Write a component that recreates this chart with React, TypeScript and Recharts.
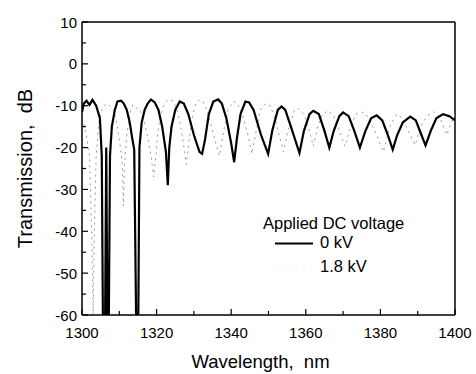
import React from 'react';
import { LineChart, Line, XAxis, YAxis, ReferenceLine, Legend, Label } from 'recharts';

// 0 kV trace (solid)
const wavelength0 = [
  1300, 1300.5, 1301.2, 1302, 1302.8, 1303.8, 1304.8, 1305.3, 1305.6, 1306.2, 1306.5, 1306.8, 1307.2, 1307.5,
  1308, 1308.8, 1309.5, 1310.5, 1311.2, 1312, 1312.8, 1313.5, 1314, 1314.5, 1315.1, 1315.4, 1316, 1316.8,
  1317.6, 1318.5, 1319.5, 1320.5, 1321.5, 1322.5, 1323, 1323.4, 1324, 1325, 1326.2, 1327.3, 1328.5, 1330,
  1331.5, 1332.2, 1333, 1334, 1335.2, 1336.5, 1337.5, 1338.7, 1340, 1340.8, 1341.5, 1342.5, 1343.8, 1344.8,
  1346, 1348, 1349.9, 1351, 1352.5, 1353.5, 1354.5, 1356, 1358.3, 1359.5, 1361, 1362, 1363.5, 1365, 1366.3,
  1367.5, 1369, 1370, 1371.5, 1373, 1374.5, 1376, 1377.5, 1379, 1380.5, 1382, 1383.3, 1384.5, 1386, 1388,
  1389.5, 1391, 1392.1, 1393.5, 1395, 1396.8, 1398.5, 1400,
];
const transmission0 = [
  -11.5, -9.5, -8.8, -9.8, -8.6, -10, -13, -22, -60, -60, -20, -60, -60, -22,
  -15, -11, -9, -8.8, -9.5, -11, -14, -18, -20.5, -60, -60, -20, -14, -11,
  -9.5, -8.5, -9.2, -11, -15, -21, -29, -20, -15, -11, -9, -9.5, -12, -17,
  -21, -21.5, -18, -12, -9, -8.5, -9.5, -13, -19, -23.5, -18, -12, -9, -9.2,
  -11, -17, -21.5, -16, -11, -10.2, -11, -15, -21.3, -16, -12, -11.2, -12, -16, -20,
  -16, -12.5, -11.6, -12.5, -16, -20, -16, -13, -12.3, -13.5, -17, -20.5, -17, -14, -12.6,
  -13.5, -17, -19.5, -16, -13, -12, -12.5, -13.5,
];

// 1.8 kV trace (dashed)
const wavelength18 = [
  1300, 1301, 1302, 1302.6, 1303, 1303.3, 1303.8, 1304.5, 1305.5, 1306.5, 1307.5, 1308.5, 1309.5, 1310.3,
  1310.8, 1311.1, 1311.4, 1312, 1312.8, 1313.6, 1314.5, 1315.5, 1316.5, 1317.5, 1318.5, 1319.2, 1319.8,
  1320.5, 1321.5, 1322.5, 1323.5, 1324.5, 1325.5, 1326.5, 1327.5, 1328, 1328.6, 1329.5, 1330.5, 1331.5,
  1332.5, 1333.5, 1335, 1336.8, 1338, 1339.2, 1340.5, 1341.5, 1343, 1344.5, 1345.5, 1346.5, 1347.8, 1349.2,
  1350.5, 1352, 1354, 1355.5, 1357, 1358, 1359.5, 1361, 1362, 1363.2, 1364.5, 1366, 1367.5, 1369, 1370.5,
  1372, 1373.5, 1375, 1376.5, 1378.5, 1380.8, 1382.5, 1384.4, 1386, 1387.5, 1389.3, 1390.8, 1392.5, 1394.2,
  1395.8, 1397.8, 1399, 1400,
];
const transmission18 = [
  -13, -16, -22, -40, -60, -40, -22, -14, -10.5, -9.5, -10, -11, -15, -20,
  -24, -34, -24, -17, -12, -9.8, -10.5, -11, -13, -17, -22, -27, -22,
  -15, -11, -9, -8.5, -9, -11, -15, -21, -24, -19, -13, -9.5, -8.6,
  -9, -11, -16, -22, -16, -11, -9, -9.2, -12, -17, -21.5, -17, -11, -9.5,
  -10, -14, -21, -15, -11, -10.7, -12, -16, -19.7, -15, -12, -11.2, -12.5, -16, -19.7,
  -15, -12, -11.5, -12.5, -16, -21, -15, -12, -13, -16, -19.4, -15, -12.5, -11.5,
  -12.5, -17, -14, -12,
];

const xTicks = [1300, 1310, 1320, 1330, 1340, 1350, 1360, 1370, 1380, 1390, 1400];
const yTicks = [10, 5, 0, -5, -10, -15, -20, -25, -30, -35, -40, -45, -50, -55, -60];

const series0 = wavelength0.map((wl, i) => ({ wl, t: transmission0[i] }));
const series18 = wavelength18.map((wl, i) => ({ wl, t: transmission18[i] }));

const FONT = '"Liberation Sans", Arial, sans-serif';

const XTick = (props: any) => {
  const { x, y, payload } = props;
  const major = payload.value % 20 === 0;
  return (
    <g>
      <line x1={x} x2={x} y1={y} y2={y - (major ? 6 : 4)} stroke="#000" strokeWidth={1.2} />
      {major && (
        <text x={x} y={y + 23} textAnchor="middle" fontSize={15} fontFamily={FONT} fill="#000">
          {payload.value}
        </text>
      )}
    </g>
  );
};

const YTick = (props: any) => {
  const { x, y, payload } = props;
  const major = payload.value % 10 === 0;
  return (
    <g>
      <line x1={x} x2={x + (major ? 6 : 4)} y1={y} y2={y} stroke="#000" strokeWidth={1.2} />
      {major && (
        <text x={x - 5} y={y + 5.5} textAnchor="end" fontSize={15} fontFamily={FONT} fill="#000">
          {payload.value}
        </text>
      )}
    </g>
  );
};

const LegendBox = () => (
  <svg width={170} height={75} style={{ display: 'block' }}>
    <text x={1} y={24} fontSize={16.5} fontFamily={FONT} fill="#000">Applied DC voltage</text>
    <line x1={13} x2={51} y1={38.5} y2={38.5} stroke="#000" strokeWidth={2} />
    <text x={58} y={43} fontSize={16.5} fontFamily={FONT} fill="#000">0 kV</text>
    <line x1={13} x2={51} y1={61} y2={61} stroke="#eee" strokeWidth={1} strokeDasharray="2 5" />
    <text x={58} y={66.5} fontSize={16.5} fontFamily={FONT} fill="#000">1.8 kV</text>
  </svg>
);

export default function App() {
  return (
    <div style={{ position: 'absolute', left: 0, top: 0, width: 476, height: 374, background: '#fff' }}>
      <LineChart width={476} height={374} margin={{ top: 22, right: 21, left: 22, bottom: 29 }}>
        <XAxis
          type="number"
          dataKey="wl"
          domain={[1300, 1400]}
          ticks={xTicks}
          interval={0}
          height={30}
          tickSize={0}
          tickMargin={0}
          tickLine={false}
          tick={<XTick />}
          axisLine={{ stroke: '#000', strokeWidth: 1.5 }}
          allowDataOverflow
        >
          <Label
            content={(p: any) => (
              <text
                x={p.viewBox.x + p.viewBox.width / 2 - 8}
                y={368}
                textAnchor="middle"
                fontSize={18.5}
                fontFamily={FONT}
                fill="#000"
                style={{ whiteSpace: 'pre' }}
              >
                {'Wavelength,  nm'}
              </text>
            )}
          />
        </XAxis>
        <YAxis
          type="number"
          domain={[-60, 10]}
          ticks={yTicks}
          interval={0}
          width={60}
          tickSize={0}
          tickMargin={0}
          tickLine={false}
          tick={<YTick />}
          axisLine={{ stroke: '#000', strokeWidth: 1.5 }}
          allowDataOverflow
        >
          <Label
            content={(p: any) => {
              const cx = 25;
              const cy = p.viewBox.y + p.viewBox.height / 2;
              return (
                <text
                  x={cx}
                  y={cy}
                  transform={`rotate(-90 ${cx} ${cy})`}
                  textAnchor="middle"
                  dominantBaseline="central"
                  fontSize={20}
                  fontFamily={FONT}
                  fill="#000"
                  style={{ whiteSpace: 'pre' }}
                >
                  {'Transmission,  dB'}
                </text>
              );
            }}
          />
        </YAxis>
        <ReferenceLine y={10} stroke="#000" strokeWidth={1.5} />
        <ReferenceLine x={1400} stroke="#000" strokeWidth={1.5} />
        <Line
          data={series18}
          dataKey="t"
          type="linear"
          stroke="#999"
          strokeWidth={1}
          strokeDasharray="2 4"
          dot={false}
          isAnimationActive={false}
        />
        <Line
          data={series0}
          dataKey="t"
          type="linear"
          stroke="#000"
          strokeWidth={2.2}
          dot={false}
          isAnimationActive={false}
        />
        <Legend
          layout="vertical"
          align="center"
          verticalAlign="middle"
          content={() => <LegendBox />}
          wrapperStyle={{ position: 'absolute', left: 262, top: 205, width: 170, height: 75 }}
        />
      </LineChart>
    </div>
  );
}
